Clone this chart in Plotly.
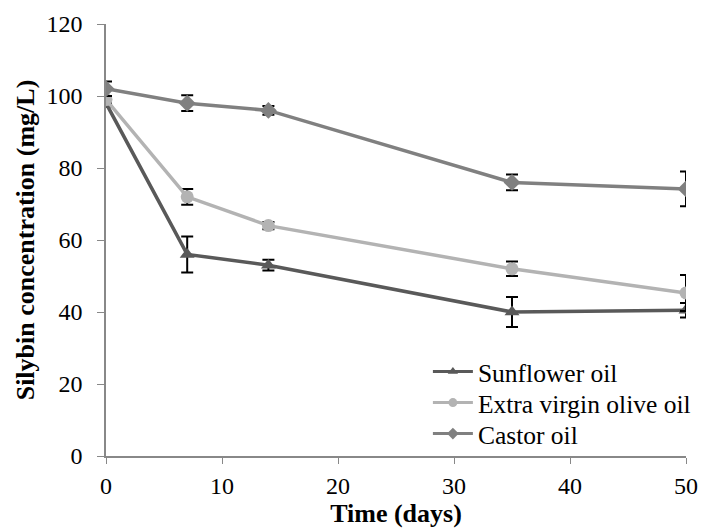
import plotly.graph_objects as go

days = [0, 7, 14, 35, 50]
sunflower = [98, 56, 53, 40, 40.5]
sunflower_err = [1, 5, 1.5, 4.2, 2]
olive = [99, 72, 64, 52, 45.3]
olive_err = [1, 2.2, 1, 2, 5]
castor = [102, 98, 96, 76, 74.2]
castor_err = [2, 2.2, 1.2, 2.2, 4.8]

FF = "Liberation Serif"

series = [
    ("Sunflower oil", sunflower, sunflower_err, "#595959", "triangle-up", 13, "legend", 0.1944),
    ("Extra virgin olive oil", olive, olive_err, "#b3b3b3", "circle", 13, "legend2", 0.1227),
    ("Castor oil", castor, castor_err, "#808080", "diamond", 13, "legend3", 0.0509),
]

fig = go.Figure()
for name, ys, errs, color, sym, size, lg, ly in series:
    fig.add_trace(go.Scatter(
        x=days, y=ys, name=name, mode="lines+markers",
        line=dict(color=color, width=3.5),
        marker=dict(symbol=sym, size=size, color=color),
        error_y=dict(type="data", array=errs, visible=True, color="black",
                     thickness=2, width=6),
        showlegend=False,
    ))
    # legend entry with smaller marker, as in the reference
    fig.add_trace(go.Scatter(
        x=[None], y=[None], name=name, mode="lines+markers",
        line=dict(color=color, width=3),
        marker=dict(symbol=sym, size=9, color=color),
        legend=lg, showlegend=True, hoverinfo="skip",
    ))

leg_common = dict(x=0.555, xanchor="left", yanchor="middle",
                  bgcolor="rgba(0,0,0,0)", font=dict(size=25.5, family=FF, color="black"),
                  itemwidth=40, borderwidth=0)
fig.update_layout(
    width=702, height=531,
    margin=dict(l=106, r=16, t=24, b=75, autoexpand=False),
    paper_bgcolor="white", plot_bgcolor="white",
    font=dict(family=FF, size=24, color="black"),
    showlegend=True,
    legend=dict(y=series[0][7], **leg_common),
    legend2=dict(y=series[1][7], **leg_common),
    legend3=dict(y=series[2][7], **leg_common),
    xaxis=dict(range=[0, 50], tickvals=[0, 10, 20, 30, 40, 50],
               showgrid=False, zeroline=False, showline=True,
               linecolor="#888888", linewidth=1.5,
               ticks="outside", ticklen=6, tickcolor="#888888",
               tickfont=dict(size=24, family=FF, color="black"),
               ticklabelstandoff=1, automargin=False,
               title=dict(text="<b>Time (days)</b>", font=dict(size=26, family=FF, color="black"), standoff=2)),
    yaxis=dict(range=[0, 120], tickvals=[0, 20, 40, 60, 80, 100, 120],
               showgrid=False, zeroline=False, showline=True,
               linecolor="#888888", linewidth=1.5,
               ticks="outside", ticklen=7, tickcolor="#888888",
               tickfont=dict(size=24, family=FF, color="black"),
               ticklabelstandoff=10, automargin=False,
               title=dict(text="<b>Silybin concentration (mg/L)</b>", font=dict(size=26, family=FF, color="black"), standoff=4)),
)
fig.write_html("out.html")
